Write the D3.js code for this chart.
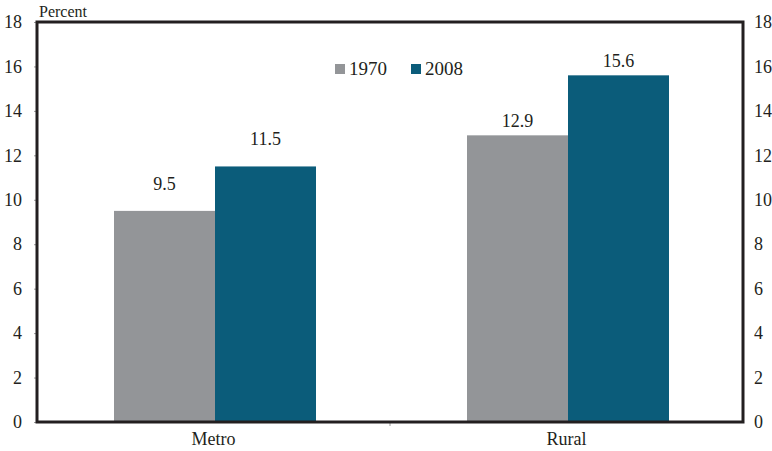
<!DOCTYPE html>
<html>
<head>
<meta charset="utf-8">
<script src="https://cdn.jsdelivr.net/npm/d3@7"></script>
<style>
  html, body { margin: 0; padding: 0; background: #fff; }
  svg { display: block; }
  svg text { font-family: "Liberation Serif", "DejaVu Serif", serif; }
</style>
</head>
<body>
<svg id="chart" width="772" height="451"></svg>
<script>
// Share of population, by area type and year
const categories = ["Metro", "Rural"];
const seriesNames = ["1970", "2008"];
const values1970 = [9.5, 12.9];
const values2008 = [11.5, 15.6];
const yTicks = [0, 2, 4, 6, 8, 10, 12, 14, 16, 18];

const colors = { "1970": "#939598", "2008": "#0b5c7a" };
const seriesValues = { "1970": values1970, "2008": values2008 };

const W = 772, H = 451;
const margin = { top: 22, right: 29, bottom: 29, left: 37 };
const svg = d3.select("#chart");

const x = d3.scaleBand().domain(categories).range([margin.left, W - margin.right]);
const y = d3.scaleLinear().domain([0, 18]).range([H - margin.bottom, margin.top]);
const barW = 101;
const xs = d3.scaleBand().domain(seriesNames).range([0, barW * 2]);

// Bars
const groups = svg.append("g").selectAll("g")
  .data(categories)
  .join("g")
  .attr("transform", c => `translate(${x(c) + x.bandwidth() / 2 - barW + 1.5},0)`);

groups.selectAll("rect")
  .data((c, i) => seriesNames.map(s => ({ s, v: seriesValues[s][i], c })))
  .join("rect")
  .attr("x", d => xs(d.s))
  .attr("width", xs.bandwidth())
  .attr("y", d => y(d.v))
  .attr("height", d => y(0) - y(d.v))
  .attr("fill", d => colors[d.s]);

// Value labels above bars
const labelGap = { Metro: 21, Rural: 8 };
groups.selectAll("text")
  .data((c, i) => seriesNames.map(s => ({ s, v: seriesValues[s][i], c })))
  .join("text")
  .attr("x", d => xs(d.s) + xs.bandwidth() / 2)
  .attr("y", d => y(d.v) - labelGap[d.c])
  .attr("text-anchor", "middle")
  .attr("font-size", 18)
  .attr("fill", "#231f20")
  .text(d => d.v.toFixed(1));

// Left axis
const yAxisL = svg.append("g")
  .attr("transform", `translate(${margin.left},0)`)
  .call(d3.axisLeft(y).tickValues(yTicks).tickSize(3).tickPadding(12).tickFormat(d3.format("d")))
  .attr("font-family", null).attr("font-size", 18);
yAxisL.select(".domain").remove();
yAxisL.selectAll("line").attr("stroke", "#9a9a9a");
yAxisL.selectAll("text").attr("fill", "#231f20");

// Right axis
const yAxisR = svg.append("g")
  .attr("transform", `translate(${W - margin.right},0)`)
  .call(d3.axisRight(y).tickValues(yTicks).tickSize(0).tickPadding(11).tickFormat(d3.format("d")))
  .attr("font-family", null).attr("font-size", 18);
yAxisR.select(".domain").remove();
yAxisR.selectAll("text").attr("fill", "#231f20");

// Bottom axis with category labels and a divider tick
const xAxis = svg.append("g")
  .attr("transform", `translate(0,${H - margin.bottom})`)
  .call(d3.axisBottom(x).tickSize(0).tickPadding(10))
  .attr("font-family", null).attr("font-size", 18);
xAxis.select(".domain").remove();
xAxis.selectAll("text").attr("fill", "#231f20");
svg.append("line")
  .attr("x1", x("Rural")).attr("x2", x("Rural"))
  .attr("y1", H - margin.bottom).attr("y2", H - margin.bottom + 4)
  .attr("stroke", "#9a9a9a");

// Frame
svg.append("rect")
  .attr("x", margin.left).attr("y", margin.top)
  .attr("width", W - margin.left - margin.right)
  .attr("height", H - margin.top - margin.bottom)
  .attr("fill", "none")
  .attr("stroke", "#231f20")
  .attr("stroke-width", 3);

// Unit label
svg.append("text")
  .attr("x", margin.left + 2).attr("y", 17)
  .attr("font-size", 16)
  .attr("fill", "#231f20")
  .text("Percent");

// Legend
const legend = svg.append("g").attr("transform", "translate(335,64)");
const legendX = { "1970": 0, "2008": 76 };
seriesNames.forEach(s => {
  const g = legend.append("g").attr("transform", `translate(${legendX[s]},0)`);
  g.append("rect").attr("width", 10).attr("height", 10).attr("fill", colors[s]);
  g.append("text").attr("x", 14).attr("y", 11).attr("font-size", 19).attr("fill", "#231f20").text(s);
});
</script>
</body>
</html>
